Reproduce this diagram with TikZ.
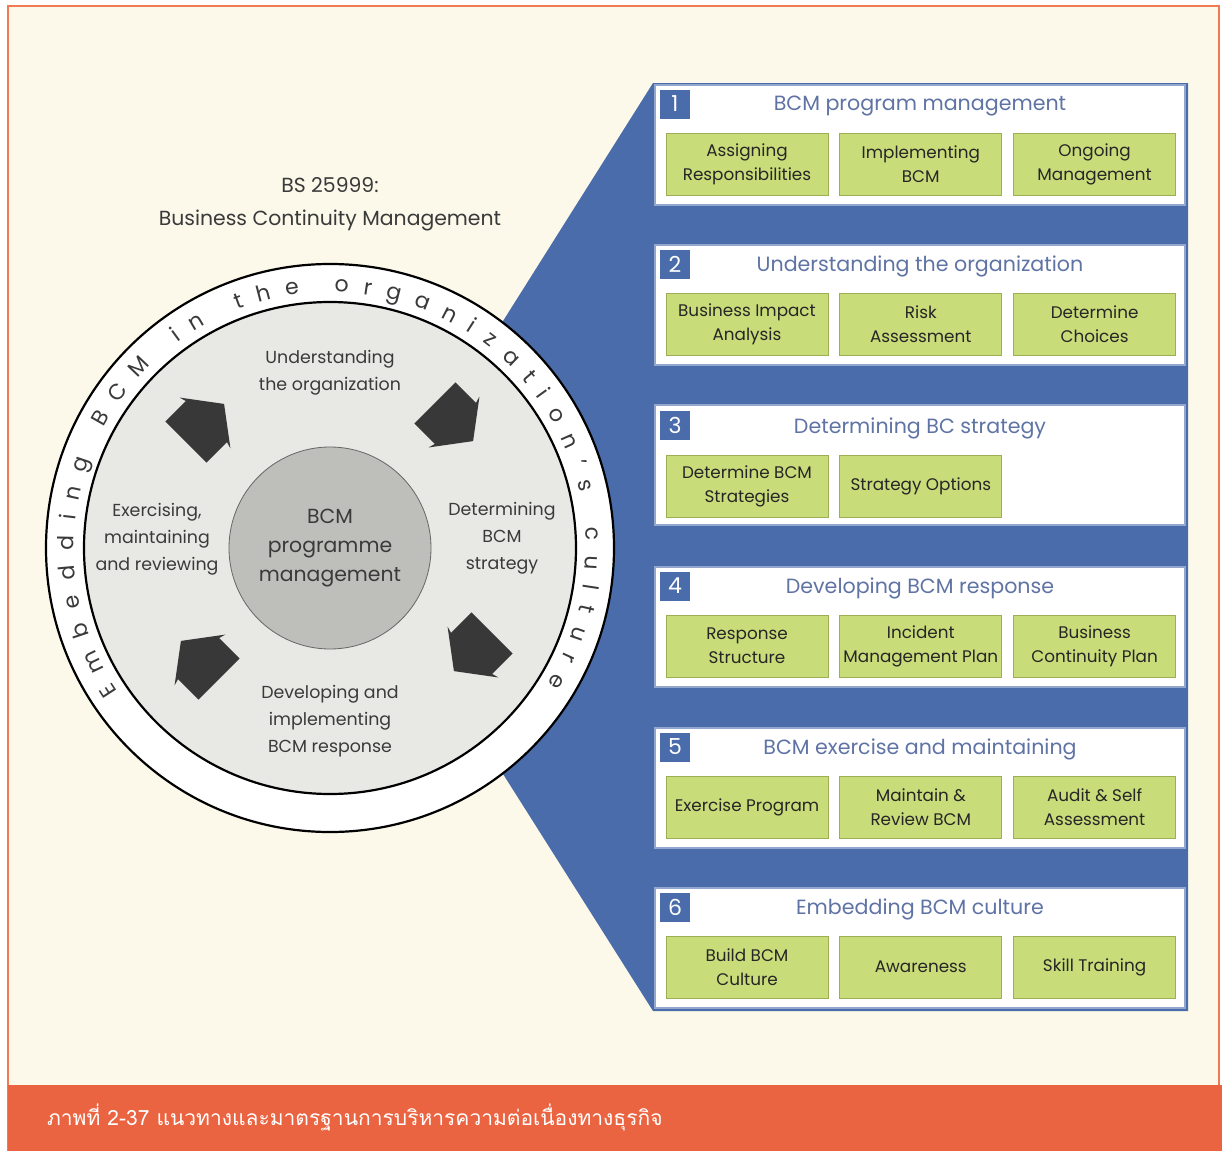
\documentclass[tikz,border=0pt]{standalone}
\usepackage{fontspec}
\setmainfont{Poppins}
\newfontfamily\thaifont[Script=Thai]{Loma}
\usetikzlibrary{positioning, decorations.text}
\definecolor{bcmblue}{HTML}{4B6CAA}
\definecolor{titleblue}{HTML}{5F73A5}
\definecolor{taskgreen}{HTML}{C8DC7A}
\definecolor{taskedge}{HTML}{9DAE55}
\definecolor{paper}{HTML}{FCF9EA}
\definecolor{framered}{HTML}{F07A52}
\definecolor{band}{HTML}{EB6441}
\definecolor{disc}{HTML}{E8E8E4}
\definecolor{hubgray}{HTML}{BEBEBB}
\definecolor{ink}{HTML}{3A3A3A}
\tikzset{
  panel/.style={rectangle, draw=bcmblue!60, fill=white, line width=0.6pt,
                minimum width=265pt, minimum height=60pt},
  stepnum/.style={rectangle, fill=bcmblue, text=white, inner sep=0pt,
                  minimum width=15pt, minimum height=14.5pt,
                  font=\fontsize{11}{11}\selectfont},
  paneltitle/.style={text=titleblue, font=\fontsize{10.3}{12}\selectfont},
  task/.style={rectangle, draw=taskedge, fill=taskgreen, align=center,
               minimum width=81pt, minimum height=31pt, inner sep=1pt,
               text=black!85, font=\fontsize{8.4}{12}\selectfont},
  phase/.style={align=center, text=ink, font=\fontsize{8.7}{13.5}\selectfont},
  cyclearrow/.style={fill=black!78},
}

\begin{document}
\begin{tikzpicture}[x=0.5pt, y=0.5pt]
  \useasboundingbox (0,0) rectangle (1222,-1151);
  \fill[white] (0,0) rectangle (1222,-1151);
  \fill[paper] (8,-6) rectangle (1219,-1151);
  \draw[framered, line width=1pt] (8,-1151) -- (8,-6) -- (1219,-6) -- (1219,-1151);
  \fill[band] (8,-1085) rectangle (1222,-1151);
  \node[anchor=west, text=white, font=\thaifont\fontsize{10.5}{12}\selectfont] (caption)
    at (40,-1117) {ภาพที่ 2-37 แนวทางและมาตรฐานการบริหารความต่อเนื่องทางธุรกิจ};

  % blue wedge behind the steps
  \fill[bcmblue] (360,-548) -- (653,-83) -- (1188,-83) -- (1188,-1011) -- (653,-1011) -- cycle;

  % the BCM wheel
  \coordinate (c) at (330,-548);
  \draw[line width=1.1pt, fill=white] (c) circle[radius=284];
  \draw[line width=1.1pt, fill=disc] (c) circle[radius=246];
  \path[decorate, decoration={text along path, text align=fit to path, text color=ink,
        text={|\fontsize{11}{11}\selectfont|Embedding BCM in the organization's culture}}]
    (c) ++(214:256) arc[start angle=214, end angle=-32, radius=256];
  \node[circle, draw=black!60, fill=hubgray, minimum size=101pt, align=center,
        text=ink, font=\fontsize{10.2}{14.5}\selectfont] (hub) at (c) {BCM\\programme\\management};

  \node[align=center, text=ink, font=\fontsize{10.2}{16.5}\selectfont] (title)
    at (330,-204) {BS 25999:\\Business Continuity Management};
  \node[phase] (understand) at (330,-373) {Understanding\\the organization};
  \node[phase] (strategy) at (502,-538) {Determining\\BCM\\strategy};
  \node[phase] (develop) at (330,-721) {Developing and\\implementing\\BCM response};
  \node[phase] (exercise) at (157,-539) {Exercising,\\maintaining\\and reviewing};

  \fill[cyclearrow, shift={(205,-423)}, rotate=45]
    (-27,29) -- (-27,-29) -- (2,-29) -- (0,-36) -- (27,0) -- (0,36) -- (2,29) -- cycle;
  \fill[cyclearrow, shift={(454,-422)}, rotate=-45]
    (-27,29) -- (-27,-29) -- (2,-29) -- (0,-36) -- (27,0) -- (0,36) -- (2,29) -- cycle;
  \fill[cyclearrow, shift={(473,-652)}, rotate=-135]
    (-27,29) -- (-27,-29) -- (2,-29) -- (0,-36) -- (27,0) -- (0,36) -- (2,29) -- cycle;
  \fill[cyclearrow, shift={(200,-660)}, rotate=135]
    (-27,29) -- (-27,-29) -- (2,-29) -- (0,-36) -- (27,0) -- (0,36) -- (2,29) -- cycle;

  % step 1
  \node[panel] (p1) at (920,-145) {};
  \node[stepnum] (n1) at (675,-104) {1};
  \node[paneltitle] (t1) at (920,-106) {BCM program management};
  \node[task] (a1) at (747,-164) {Assigning\\Responsibilities};
  \node[task, right=5.5pt of a1] (a2) {Implementing\\BCM};
  \node[task, right=5.5pt of a2] (a3) {Ongoing\\Management};

  % step 2
  \node[panel] (p2) at (920,-305) {};
  \node[stepnum] (n2) at (675,-264) {2};
  \node[paneltitle] (t2) at (920,-266) {Understanding the organization};
  \node[task] (b1) at (747,-324) {Business Impact\\Analysis};
  \node[task, right=5.5pt of b1] (b2) {Risk\\Assessment};
  \node[task, right=5.5pt of b2] (b3) {Determine\\Choices};

  % step 3
  \node[panel] (p3) at (920,-465) {};
  \node[stepnum] (n3) at (675,-425) {3};
  \node[paneltitle] (t3) at (920,-428) {Determining BC strategy};
  \node[task] (c1) at (747,-486) {Determine BCM\\Strategies};
  \node[task, right=5.5pt of c1] (c2) {Strategy Options};

  % step 4
  \node[panel] (p4) at (920,-627) {};
  \node[stepnum] (n4) at (675,-586) {4};
  \node[paneltitle] (t4) at (920,-588) {Developing BCM response};
  \node[task] (d1) at (747,-646) {Response\\Structure};
  \node[task, right=5.5pt of d1] (d2) {Incident\\Management Plan};
  \node[task, right=5.5pt of d2] (d3) {Business\\Continuity Plan};

  % step 5
  \node[panel] (p5) at (920,-788) {};
  \node[stepnum] (n5) at (675,-747) {5};
  \node[paneltitle] (t5) at (920,-749) {BCM exercise and maintaining};
  \node[task] (e1) at (747,-807) {Exercise Program};
  \node[task, right=5.5pt of e1] (e2) {Maintain \&\\Review BCM};
  \node[task, right=5.5pt of e2] (e3) {Audit \& Self\\Assessment};

  % step 6
  \node[panel] (p6) at (920,-948) {};
  \node[stepnum] (n6) at (675,-907) {6};
  \node[paneltitle] (t6) at (920,-909) {Embedding BCM culture};
  \node[task] (f1) at (747,-967) {Build BCM\\Culture};
  \node[task, right=5.5pt of f1] (f2) {Awareness};
  \node[task, right=5.5pt of f2] (f3) {Skill Training};
\end{tikzpicture}
\end{document}
